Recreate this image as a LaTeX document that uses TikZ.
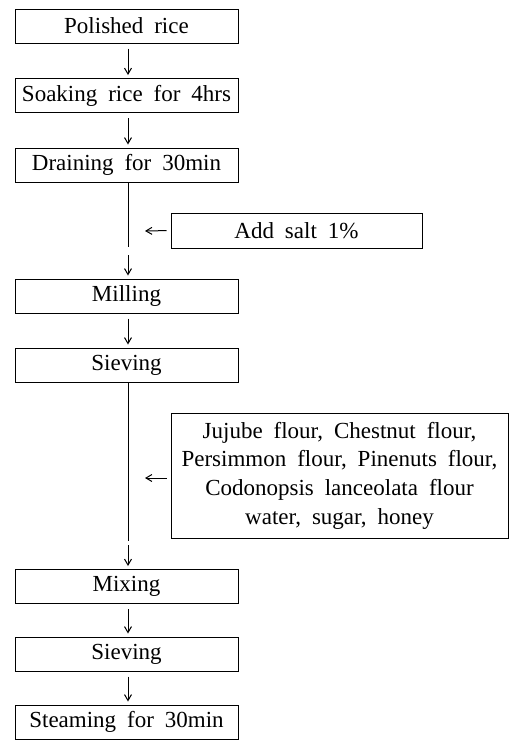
\documentclass[tikz,border=0pt]{standalone}
\usepackage{fontspec}
\setmainfont[WordSpace=1.9]{Liberation Serif}
\usepackage{tikz}
\usetikzlibrary{arrows.meta,positioning,calc}

\begin{document}
\begin{tikzpicture}[x=1pt, y=-1pt, >={Straight Barb[length=6pt,width=7pt]},
    stepbox/.style={draw, line width=1pt, minimum width=223pt, minimum height=34pt,
        inner sep=0pt, font=\fontsize{23}{28.7}\selectfont},
    addbox/.style={draw, line width=1pt, inner sep=0pt, align=center,
        font=\fontsize{23}{28.7}\selectfont},
    flow/.style={->, line width=1pt, shorten <=5pt, shorten >=3pt}]
        \useasboundingbox (0,0) rectangle (512,740);

        % Main steps
        \node[stepbox] (rice) at (126.5,26) {Polished rice};
        \node[stepbox] (soak) at (126.5,95.5) {Soaking rice for 4hrs};
        \node[stepbox] (drain) at (126.5,165) {Draining for 30min};
        \node[stepbox] (mill) at (126.5,296) {Milling};
        \node[stepbox] (sieve) at (126.5,365) {Sieving};
        \node[stepbox] (mix) at (126.5,586.5) {Mixing};
        \node[stepbox] (sieveb) at (126.5,654) {Sieving};
        \node[stepbox] (steam) at (126.5,722) {Steaming for 30min};

        % Additions
        \node[addbox, minimum width=251pt, minimum height=35pt] (salt) at (296.5,230.5) {Add salt 1\%};
        \node[addbox, minimum width=337pt, minimum height=125pt] (flour) at (339.5,475.5)
        {%
            Jujube flour, Chestnut flour,\\
            Persimmon flour, Pinenuts flour,\\
            Codonopsis lanceolata flour\\
            water, sugar, honey
        };

        % Joints on the long lines
        \coordinate (saltend) at (128,247);
        \coordinate (saltin) at (145,231);
        \coordinate (flourend) at (128,541);
        \coordinate (flourin) at (145,478);

        % Arrows
        \draw[flow] (rice.south -| saltend) -- (soak.north -| saltend);
        \draw[flow] (soak.south -| saltend) -- (drain.north -| saltend);
        \draw[line width=1pt] (drain.south -| saltend) -- (saltend);
        \draw[flow, shorten <=8pt] (saltend) -- (mill.north -| saltend);
        \draw[flow, shorten <=4pt, shorten >=0pt] (salt.west) -- (saltin);
        \draw[flow] (mill.south -| saltend) -- (sieve.north -| saltend);
        \draw[line width=1pt] (sieve.south -| flourend) -- (flourend);
        \draw[flow, shorten <=4pt] (flourend) -- (mix.north -| flourend);
        \draw[flow, shorten <=4pt, shorten >=0pt] (flour.west |- flourin) -- (flourin);
        \draw[flow] (mix.south -| saltend) -- (sieveb.north -| saltend);
        \draw[flow] (sieveb.south -| saltend) -- (steam.north -| saltend);
    \end{tikzpicture}
\end{document}
